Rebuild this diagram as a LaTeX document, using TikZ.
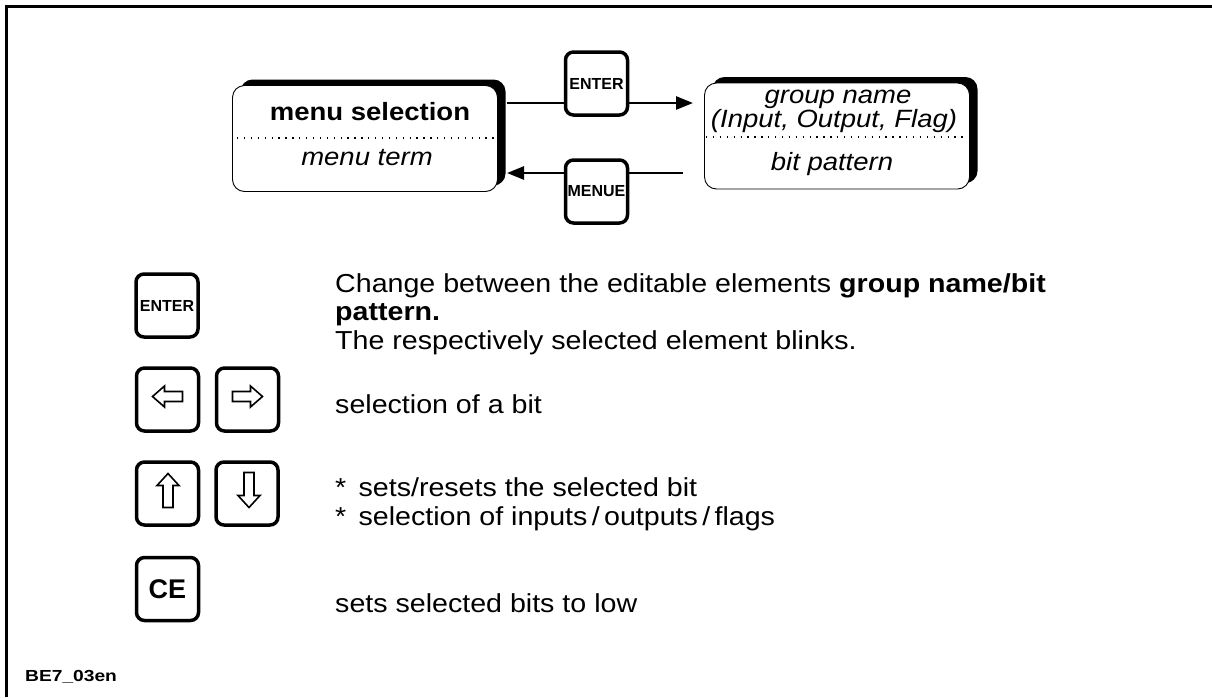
\documentclass[tikz,border=0pt]{standalone}
\usepackage{fontspec}
\setmainfont{Liberation Sans}[FakeStretch=1.1]
\newfontfamily\keyfont{Liberation Sans}
\newfontfamily\tagfont{Liberation Sans}[FakeStretch=1.2]
\usetikzlibrary{arrows.meta,shadows}
\tikzset{
  frameline/.style={line width=2.5pt},
  panel/.style={draw, line width=0.9pt, fill=white, rounded corners=12pt,
    minimum width=265pt, minimum height=106pt, inner sep=0pt,
    drop shadow={shadow xshift=8pt, shadow yshift=6pt, fill=black, opacity=1}},
  dotline/.style={line width=1.2pt, dash pattern=on 1.3pt off 5.6pt},
  keybox/.style={draw, line width=3.5pt, rounded corners=8pt, fill=white,
    minimum width=62pt, minimum height=63pt, inner sep=0pt},
  keytxt/.style={font=\keyfont\bfseries\fontsize{16}{18}\selectfont},
  celabel/.style={font=\keyfont\bfseries\fontsize{27}{30}\selectfont},
  wire/.style={line width=2.6pt},
  conn/.style={line width=2.6pt, -{Triangle[length=17pt,width=13pt]}},
  hollow/.style={line width=1.6pt, line join=miter},
  txt/.style={anchor=base west, inner sep=0pt, font=\fontsize{26}{29}\selectfont},
  ptxt/.style={anchor=base, inner sep=0pt, font=\fontsize{25}{27}\selectfont},
}
\begin{document}
\begin{tikzpicture}[x=1pt,y=-1pt]
\useasboundingbox (0,0) rectangle (1212,697);
% frame
\draw[frameline] (6.5,697) -- (6.5,6.5) -- (1212,6.5);
% panels
\node[panel] (lp) at (365,138.5) {};
\node[panel] (rp) at (837,136) {};
\draw[dotline] (237,138) -- (495,138);
\draw[dotline] (706,137) -- (968,137);
\node[ptxt, font=\bfseries\fontsize{25}{27}\selectfont] (lp1) at (370,120) {menu selection};
\node[ptxt, font=\itshape\fontsize{25}{27}\selectfont] (lp2) at (367,165) {menu term};
\node[ptxt, font=\itshape\fontsize{25}{27}\selectfont] (rp1) at (838,103) {group name};
\node[ptxt, font=\itshape\fontsize{25}{27}\selectfont] (rp2) at (834,127) {(Input, Output, Flag)};
\node[ptxt, font=\itshape\fontsize{25}{27}\selectfont] (rp3) at (832,170) {bit pattern};
% top keys
\node[keybox] (kEnter) at (596.5,83.5) {};
\node[keytxt] (kEnterT) at (kEnter.center) {ENTER};
\node[keybox] (kMenue) at (596.5,191.5) {};
\node[keytxt] (kMenueT) at (kMenue.center) {MENUE};
% connectors
\coordinate (a1) at (507,103);
\coordinate (a2) at (693,103);
\coordinate (b1) at (683,173);
\coordinate (b2) at (507,173);
\draw[wire] (a1) -- (kEnter.west |- a1);
\draw[conn] (kEnter.east |- a1) -- (a2);
\draw[wire] (b1) -- (kMenue.east |- b1);
\draw[conn] (kMenue.west |- b1) -- (b2);
% lower keys
\node[keybox] (k1) at (167,305.5) {};
\node[keytxt] (k1t) at (k1.center) {ENTER};
\node[keybox] (kL) at (167.5,399.5) {};
\node[keybox] (kR) at (247.5,399.5) {};
\node[keybox] (kU) at (167.5,493.5) {};
\node[keybox] (kD) at (247,493.5) {};
\node[keybox] (kCE) at (167.5,589) {};
\node[celabel] (kCEt) at (kCE.center) {CE};
% hollow arrows
\begin{scope}[shift={(kL.center)}]
\draw[hollow] (-15,-3) -- (-3,-13.5) -- (-3,-8) -- (15,-8) -- (15,2) -- (-3,2) -- (-3,7.5) -- cycle;
\end{scope}
\begin{scope}[shift={(kR.center)}]
\draw[hollow] (15,-3) -- (3,-13.5) -- (3,-8) -- (-15,-8) -- (-15,2) -- (3,2) -- (3,7.5) -- cycle;
\end{scope}
\begin{scope}[shift={(kU.center)}]
\draw[hollow] (0.5,-20) -- (11.5,-8) -- (5.5,-8) -- (5.5,14) -- (-4.5,14) -- (-4.5,-8) -- (-10.5,-8) -- cycle;
\end{scope}
\begin{scope}[shift={(kD.center)}]
\draw[hollow] (2,14) -- (13,2) -- (7,2) -- (7,-21) -- (-3,-21) -- (-3,2) -- (-9,2) -- cycle;
\end{scope}
% texts
\node[txt] (t1) at (335,292) {Change between the editable elements \textbf{group name/bit}};
\node[txt] (t2) at (335,320) {\textbf{pattern.}};
\node[txt] (t3) at (335,349) {The respectively selected element blinks.};
\node[txt] (t4) at (335,413) {selection of a bit};
\node[txt] (t5) at (335,496) {*\, sets/resets the selected bit};
\node[txt] (t6) at (335,525) {*\, selection of inputs\,/\,outputs\,/\,flags};
\node[txt] (t7) at (335,612) {sets selected bits to low};
\node[anchor=base west, inner sep=0pt, font=\tagfont\bfseries\fontsize{16}{18}\selectfont] (tag) at (25,681) {BE7\_03en};
\end{tikzpicture}
\end{document}
